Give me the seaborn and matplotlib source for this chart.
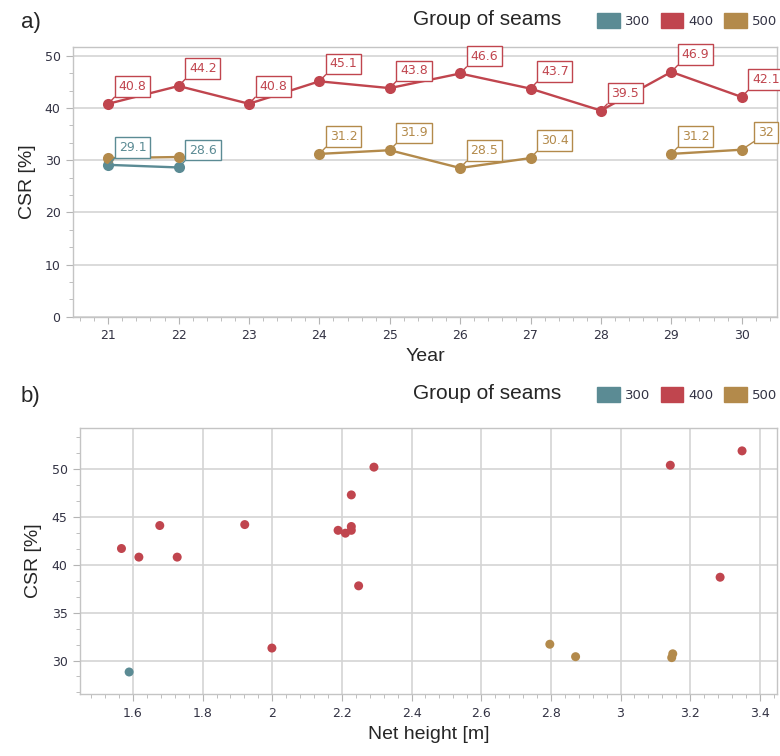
import numpy as np
import pandas as pd
import seaborn as sns
import matplotlib.pyplot as plt
from matplotlib.patches import Patch
from matplotlib.ticker import AutoMinorLocator, MultipleLocator, FuncFormatter

sns.set_style("white")

groups = ["300", "400", "500"]
colors = {"300": "#5b8b94", "400": "#c0454e", "500": "#b38a4b"}
nan = np.nan

# a) CSR by year
years = [21, 22, 23, 24, 25, 26, 27, 28, 29, 30]
csr_year_300 = [29.1, 28.6, nan, nan, nan, nan, nan, nan, nan, nan]
csr_year_400 = [40.8, 44.2, 40.8, 45.1, 43.8, 46.6, 43.7, 39.5, 46.9, 42.1]
csr_year_500 = [30.4, 30.6, nan, 31.2, 31.9, 28.5, 30.4, nan, 31.2, 32.0]

# b) CSR vs net height
height_300 = [1.589]
csr_h_300 = [28.8]
height_400 = [1.567, 1.617, 1.677, 1.727, 1.921, 1.999, 2.189, 2.21, 2.227, 2.227,
              2.227, 2.248, 2.292, 3.143, 3.286, 3.349]
csr_h_400 = [41.7, 40.8, 44.1, 40.8, 44.2, 31.3, 43.6, 43.3, 44.0, 43.6,
             47.3, 37.8, 50.2, 50.4, 38.7, 51.9]
height_500 = [2.797, 2.871, 3.150, 3.147]
csr_h_500 = [31.7, 30.4, 30.7, 30.3]

# long table for the line chart, split into segments where a year is missing
rows = []
for g, vals in zip(groups, [csr_year_300, csr_year_400, csr_year_500]):
    seg, gap = 0, True
    for yr, v in zip(years, vals):
        if np.isnan(v):
            gap = True
            continue
        if gap:
            seg += 1
            gap = False
        rows.append(dict(year=yr, csr=v, group=g, seg=f"{g}-{seg}"))
df_a = pd.DataFrame(rows)

df_b = pd.concat([
    pd.DataFrame(dict(height=height_300, csr=csr_h_300, group="300")),
    pd.DataFrame(dict(height=height_400, csr=csr_h_400, group="400")),
    pd.DataFrame(dict(height=height_500, csr=csr_h_500, group="500")),
])

fig = plt.figure(figsize=(7.8, 7.56), dpi=100)
ax1 = fig.add_axes([0.0936, 0.581, 0.9024, 0.357])
ax2 = fig.add_axes([0.1026, 0.082, 0.8934, 0.352])

label_font = "Liberation Sans"
tick_color = "#333344"

# ---- a)
sns.lineplot(data=df_a, x="year", y="csr", hue="group", units="seg", estimator=None,
             palette=colors, hue_order=groups, marker="o", markersize=8,
             markeredgewidth=0, linewidth=1.7, legend=False, ax=ax1)

years_300 = set(df_a.loc[df_a.group == "300", "year"])
for _, r in df_a.iterrows():
    if r.group == "500" and r.year in years_300:
        continue
    c = colors[r.group]
    ax1.annotate(f"{r.csr:g}", xy=(r.year, r.csr), xytext=(17.5, 12.5),
                 textcoords="offset points", ha="center", va="center",
                 fontsize=9, color=c,
                 bbox=dict(boxstyle="square,pad=0.3", fc="white", ec=c, lw=1),
                 arrowprops=dict(arrowstyle="-", color=c, lw=1, relpos=(0, 0),
                                 shrinkA=0, shrinkB=0))

ax1.set_xlim(20.5, 30.5)
ax1.set_ylim(0, 51.7)
ax1.xaxis.set_major_locator(MultipleLocator(1))
ax1.xaxis.set_minor_locator(AutoMinorLocator(5))
ax1.yaxis.set_major_locator(MultipleLocator(10))
ax1.yaxis.set_minor_locator(AutoMinorLocator(3))
ax1.grid(axis="y", color="#d4d4d4", lw=1.2)
ax1.set_xlabel("Year", fontsize=14, family=label_font, labelpad=4)
ax1.set_ylabel("CSR [%]", fontsize=14, family=label_font, labelpad=6)

# ---- b)
sns.scatterplot(data=df_b, x="height", y="csr", hue="group", palette=colors,
                hue_order=groups, s=42, linewidth=0, legend=False, ax=ax2)
ax2.set_xlim(1.448, 3.449)
ax2.set_ylim(26.5, 54.3)
ax2.xaxis.set_major_locator(MultipleLocator(0.2))
ax2.xaxis.set_minor_locator(AutoMinorLocator(5))
ax2.xaxis.set_major_formatter(FuncFormatter(lambda v, p: f"{round(v, 1):g}"))
ax2.yaxis.set_major_locator(MultipleLocator(5))
ax2.yaxis.set_minor_locator(AutoMinorLocator(3))
ax2.grid(color="#d4d4d4", lw=1.2)
ax2.set_xlabel("Net height [m]", fontsize=14, family=label_font, labelpad=5)
ax2.set_ylabel("CSR [%]", fontsize=14, family=label_font, labelpad=7)

for ax in (ax1, ax2):
    ax.set_axisbelow(True)
    for s in ax.spines.values():
        s.set_color("#c4c4c4")
        s.set_linewidth(1)
    ax.tick_params(which="both", bottom=True, left=True, direction="out",
                   color="#b4b4b4", labelcolor=tick_color, labelsize=9)
    ax.tick_params(which="major", length=5, pad=4)
    ax.tick_params(which="minor", length=3)

# panel letters and legends
handles = [Patch(fc=colors[g], ec=colors[g], label=g) for g in groups]
for letter, y in (("a)", 0.970), ("b)", 0.475)):
    fig.text(0.027, y, letter, fontsize=16, family=label_font, va="center")
    fig.text(0.5295, y + 0.004, "Group of seams", fontsize=15, family=label_font,
             va="center")
    fig.legend(handles=handles, ncol=3, loc="center left",
               bbox_to_anchor=(0.766, y + 0.003), frameon=False, fontsize=9.5,
               labelcolor=tick_color, handlelength=1.7, handleheight=1.4,
               handletextpad=0.4, columnspacing=0.8, borderpad=0, borderaxespad=0)

fig.savefig("out.png", dpi=100)
